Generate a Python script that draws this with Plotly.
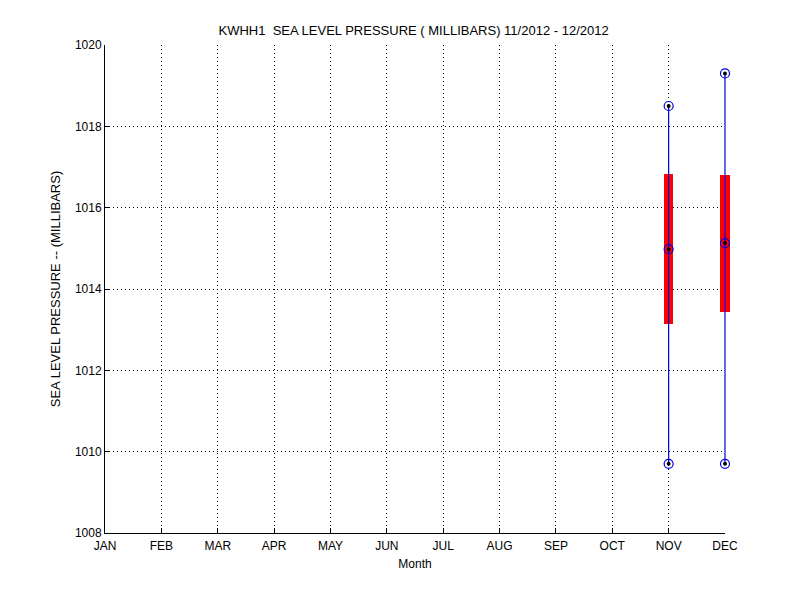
import plotly.graph_objects as go

months = ['JAN', 'FEB', 'MAR', 'APR', 'MAY', 'JUN', 'JUL', 'AUG', 'SEP', 'OCT', 'NOV', 'DEC']
box_months = [11, 12]
p_min = [1009.70, 1009.70]
p_q1 = [1013.13, 1013.44]
p_med = [1014.98, 1015.13]
p_q3 = [1016.83, 1016.80]
p_max = [1018.50, 1019.30]

# the page puts the figure 8px in from the corner, margins allow for that
plot_w = 620    # visible axes width in px
extra_w = 10    # room to the right so the DEC box is not clipped
x_frac = plot_w / (plot_w + extra_w)
x2_hi = 1 + 11 / x_frac

fig = go.Figure()

# empty trace so the visible month / pressure axes get drawn
fig.add_trace(go.Scatter(x=[], y=[], mode='markers', showlegend=False))

# red boxes (interquartile range)
fig.add_trace(go.Bar(
    x=box_months,
    y=[q3 - q1 for q1, q3 in zip(p_q1, p_q3)],
    base=p_q1,
    width=0.165,
    marker=dict(color='#ff0000', line=dict(width=0)),
    xaxis='x2', yaxis='y2',
    showlegend=False,
    hoverinfo='skip'
))

# blue whiskers
for m, lo, hi in zip(box_months, p_min, p_max):
    fig.add_trace(go.Scatter(
        x=[m, m], y=[lo, hi],
        mode='lines',
        line=dict(color='#0000dd', width=1.2),
        xaxis='x2', yaxis='y2',
        showlegend=False
    ))

# markers at min, median, max
mx, my = [], []
for m, lo, md, hi in zip(box_months, p_min, p_med, p_max):
    mx += [m, m, m]
    my += [lo, md, hi]

fig.add_trace(go.Scatter(
    x=mx, y=my, mode='markers',
    marker=dict(symbol='circle-open', size=9, color='#0000dd', line=dict(width=1.2)),
    xaxis='x2', yaxis='y2', cliponaxis=False,
    showlegend=False
))
fig.add_trace(go.Scatter(
    x=mx, y=my, mode='markers',
    marker=dict(symbol='circle', size=4, color='black'),
    xaxis='x2', yaxis='y2', cliponaxis=False,
    showlegend=False
))

font = dict(family='Liberation Sans, Arial, sans-serif', size=12, color='black')
grid_dash = '1px,3px'

fig.update_layout(
    width=800, height=600,
    plot_bgcolor='rgba(0,0,0,0)', paper_bgcolor='white',
    margin=dict(l=97, r=800 - 97 - plot_w - extra_w, t=37, b=75),
    font=font,
    title=dict(text='KWHH1  SEA LEVEL PRESSURE ( MILLIBARS) 11/2012 - 12/2012',
               x=0.507, xanchor='center', y=1 - 22 / 600, yanchor='middle',
               font=dict(size=13)),
    bargap=0,
    xaxis=dict(
        domain=[0, x_frac],
        range=[1, 12], tickmode='array', tickvals=list(range(1, 13)), ticktext=months,
        showgrid=True, gridcolor='black', griddash=grid_dash, gridwidth=1,
        showline=True, linecolor='black', linewidth=1,
        ticks='inside', ticklen=5, tickcolor='black', ticklabelstandoff=2,
        zeroline=False, automargin=False,
        title=dict(text='Month', standoff=7, font=dict(size=12))
    ),
    yaxis=dict(
        range=[1008, 1020], tickmode='array', tickvals=list(range(1008, 1021, 2)),
        showgrid=True, gridcolor='black', griddash=grid_dash, gridwidth=1,
        showline=True, linecolor='black', linewidth=1,
        ticks='inside', ticklen=5, tickcolor='black',
        zeroline=False, automargin=False,
        title=dict(text='SEA LEVEL PRESSURE -- (MILLIBARS)', standoff=11, font=dict(size=13))
    ),
    xaxis2=dict(domain=[0, 1], range=[1, x2_hi], visible=False, anchor='y2',
                showgrid=False, zeroline=False),
    yaxis2=dict(range=[1008, 1020], visible=False, anchor='x2',
                showgrid=False, zeroline=False),
)

fig.write_html("out.html")
